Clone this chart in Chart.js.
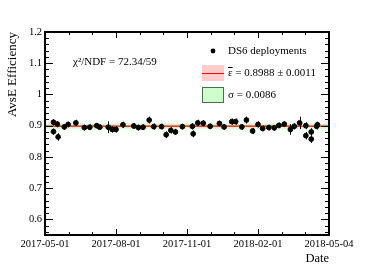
<!DOCTYPE html>
<html>
<head>
<meta charset="utf-8">
<script src="https://cdn.jsdelivr.net/npm/chart.js@4"></script>
<style>
  html, body { margin: 0; padding: 0; background: #fff; }
  canvas { display: block; }
</style>
</head>
<body>
<canvas id="effChart" width="374" height="268"></canvas>
<script>
// deployment dates and measured AvsE efficiency
const dates = [
  '2017-05-12', '2017-05-12', '2017-05-17', '2017-05-18', '2017-05-26', '2017-05-31',
  '2017-06-10', '2017-06-21', '2017-06-28', '2017-07-07', '2017-07-11', '2017-07-22',
  '2017-07-27', '2017-08-01', '2017-08-10', '2017-08-24', '2017-08-30', '2017-09-05',
  '2017-09-13', '2017-09-19', '2017-09-29', '2017-10-05', '2017-10-11', '2017-10-17',
  '2017-10-26', '2017-11-08', '2017-11-09', '2017-11-15', '2017-11-22', '2017-12-01',
  '2017-12-13', '2017-12-19', '2017-12-29', '2018-01-03', '2018-01-11', '2018-01-17',
  '2018-01-25', '2018-02-01', '2018-02-07', '2018-02-15', '2018-02-22', '2018-02-28',
  '2018-03-07', '2018-03-15', '2018-03-20', '2018-03-27', '2018-04-04', '2018-04-04',
  '2018-04-11', '2018-04-11', '2018-04-18', '2018-04-19'
];
const efficiency = [
  0.911, 0.881, 0.905, 0.864, 0.896, 0.904,
  0.909, 0.894, 0.895, 0.900, 0.895, 0.895,
  0.888, 0.888, 0.903, 0.899, 0.894, 0.895,
  0.918, 0.897, 0.897, 0.871, 0.885, 0.880,
  0.897, 0.898, 0.874, 0.909, 0.908, 0.898,
  0.907, 0.896, 0.913, 0.913, 0.896, 0.918,
  0.883, 0.904, 0.891, 0.894, 0.893, 0.901,
  0.905, 0.888, 0.898, 0.909, 0.900, 0.868,
  0.880, 0.857, 0.898, 0.903
];
const errors = [
  0.010, 0.010, 0.010, 0.012, 0.009, 0.009,
  0.010, 0.009, 0.009, 0.009, 0.009, 0.019,
  0.010, 0.010, 0.010, 0.009, 0.009, 0.009,
  0.011, 0.010, 0.009, 0.011, 0.010, 0.010,
  0.009, 0.010, 0.011, 0.010, 0.010, 0.009,
  0.009, 0.009, 0.010, 0.010, 0.009, 0.011,
  0.010, 0.010, 0.009, 0.009, 0.009, 0.009,
  0.009, 0.017, 0.010, 0.020, 0.011, 0.012,
  0.012, 0.012, 0.010, 0.010
];
const tickDates = ['2017-05-01', '2017-08-01', '2017-11-01', '2018-02-01', '2018-05-04'];
const yTicks = [0.6, 0.7, 0.8, 0.9, 1.0, 1.1, 1.2];

const meanEff = 0.8988;
const meanErr = 0.0011;
const sigma = 0.0086;

const DAY = 86400000;
const t0 = Date.parse(tickDates[0]);
const toDay = d => (Date.parse(d) - t0) / DAY;
const xMajor = tickDates.map(toDay);
const xMin = xMajor[0], xMax = xMajor[xMajor.length - 1];

const points = dates.map((d, i) => ({ x: toDay(d), y: efficiency[i] }));
const flat = v => [{ x: xMin, y: v }, { x: xMax, y: v }];

const serif = 'Liberation Serif, Times New Roman, serif';

const errorBars = {
  id: 'errorBars',
  afterDatasetsDraw(chart) {
    const { ctx, scales: { x, y } } = chart;
    ctx.save();
    ctx.strokeStyle = '#000';
    ctx.lineWidth = 1;
    points.forEach((p, i) => {
      const px = Math.round(x.getPixelForValue(p.x)) + 0.5;
      ctx.beginPath();
      ctx.moveTo(px, y.getPixelForValue(p.y - errors[i]));
      ctx.lineTo(px, y.getPixelForValue(p.y + errors[i]));
      ctx.stroke();
    });
    ctx.restore();
  }
};

// ROOT style frame, inward ticks, legend and fit text
const frame = {
  id: 'frame',
  afterDraw(chart) {
    const { ctx, chartArea: a, scales: { x, y } } = chart;
    ctx.save();
    ctx.strokeStyle = '#000';
    ctx.lineWidth = 1;

    // x ticks: majors every 3 months, 2 minors between
    for (let i = 0; i < xMajor.length; i++) {
      const px = Math.round(x.getPixelForValue(xMajor[i])) + 0.5;
      ctx.beginPath();
      ctx.moveTo(px, a.bottom); ctx.lineTo(px, a.bottom - 6);
      ctx.moveTo(px, a.top); ctx.lineTo(px, a.top + 6);
      ctx.stroke();
      if (i < xMajor.length - 1) {
        const step = (xMajor[i + 1] - xMajor[i]) / 3;
        for (let k = 1; k < 3; k++) {
          const mx = Math.round(x.getPixelForValue(xMajor[i] + k * step)) + 0.5;
          ctx.beginPath();
          ctx.moveTo(mx, a.bottom); ctx.lineTo(mx, a.bottom - 3);
          ctx.moveTo(mx, a.top); ctx.lineTo(mx, a.top + 3);
          ctx.stroke();
        }
      }
    }
    // y ticks: majors 0.1, minors 0.02
    for (let k = 0; k <= 32; k++) {
      const v = 0.56 + k * 0.02;
      const major = Math.abs(v * 10 - Math.round(v * 10)) < 1e-6;
      const len = major ? 8 : 4;
      const py = Math.round(y.getPixelForValue(v)) + 0.5;
      ctx.beginPath();
      ctx.moveTo(a.left, py); ctx.lineTo(a.left + len, py);
      ctx.moveTo(a.right, py); ctx.lineTo(a.right - len, py);
      ctx.stroke();
    }
    ctx.lineWidth = 2;
    ctx.strokeRect(a.left, a.top, a.right - a.left, a.bottom - a.top);

    // chi2 text
    ctx.fillStyle = '#000';
    ctx.textBaseline = 'middle';
    ctx.font = '11px ' + serif;
    ctx.fillText('\u03c7\u00b2/NDF = 72.34/59', 73, 62);

    // legend
    ctx.beginPath();
    ctx.arc(213, 51, 2.4, 0, Math.PI * 2);
    ctx.fill();
    ctx.fillText('DS6 deployments', 228, 51);

    ctx.fillStyle = '#ffcccc';
    ctx.fillRect(202, 65, 22, 16);
    ctx.strokeStyle = '#ff0000';
    ctx.lineWidth = 1;
    ctx.beginPath();
    ctx.moveTo(202, 73.5); ctx.lineTo(224, 73.5);
    ctx.stroke();
    ctx.fillStyle = '#000';
    ctx.fillText('\u03b5', 228, 73);
    const ew = ctx.measureText('\u03b5').width;
    ctx.strokeStyle = '#000';
    ctx.beginPath();
    ctx.moveTo(228, 67.5); ctx.lineTo(228 + ew, 67.5);
    ctx.stroke();
    ctx.fillText(' = 0.8988 \u00b1 0.0011', 228 + ew, 73);

    ctx.fillStyle = '#ccffcc';
    ctx.fillRect(202, 87, 22, 16);
    ctx.strokeStyle = '#4d6b4d';
    ctx.strokeRect(202.5, 87.5, 21, 15);
    ctx.fillStyle = '#000';
    ctx.fillText('\u03c3 = 0.0086', 228, 95);
    ctx.restore();
  }
};

new Chart(document.getElementById('effChart'), {
  type: 'scatter',
  data: {
    datasets: [
      {
        label: 'DS6 deployments',
        data: points,
        backgroundColor: '#000',
        borderColor: '#000',
        pointRadius: 2.4,
        pointHoverRadius: 2.4
      },
      {
        label: 'mean',
        data: flat(meanEff),
        showLine: true,
        borderColor: '#ff0000',
        borderWidth: 1.3,
        pointRadius: 0
      },
      {
        label: 'mean error',
        data: flat(meanEff + meanErr),
        showLine: true,
        borderWidth: 0,
        pointRadius: 0,
        backgroundColor: '#ffcccc',
        fill: { value: meanEff - meanErr }
      },
      {
        label: 'sigma',
        data: flat(meanEff + sigma),
        showLine: true,
        borderWidth: 0,
        pointRadius: 0,
        backgroundColor: '#ccffcc',
        fill: { value: meanEff - sigma }
      }
    ]
  },
  options: {
    responsive: false,
    animation: false,
    events: [],
    layout: { padding: { left: 0, right: 45, top: 32, bottom: 0 } },
    plugins: { legend: { display: false }, tooltip: { enabled: false } },
    scales: {
      x: {
        type: 'linear',
        min: xMin,
        max: xMax,
        afterBuildTicks: s => { s.ticks = xMajor.map(v => ({ value: v })); },
        afterFit: s => { s.height = 33; },
        grid: { display: false, drawTicks: false },
        border: { display: false },
        ticks: {
          autoSkip: false,
          maxRotation: 0,
          padding: 3,
          color: '#000',
          font: { family: serif, size: 10.5 },
          callback: v => tickDates[xMajor.indexOf(v)]
        },
        title: {
          display: true,
          text: 'Date',
          align: 'end',
          color: '#000',
          font: { family: serif, size: 12.5 },
          padding: { top: 0, bottom: 2 }
        }
      },
      y: {
        min: 0.55,
        max: 1.2,
        afterBuildTicks: s => { s.ticks = yTicks.map(v => ({ value: v })); },
        afterFit: s => { s.width = 45; },
        grid: { display: false, drawTicks: false },
        border: { display: false },
        ticks: {
          padding: 3,
          color: '#000',
          font: { family: serif, size: 10.5 },
          callback: v => String(Math.round(v * 10) / 10)
        },
        title: {
          display: true,
          text: 'AvsE Efficiency',
          align: 'end',
          color: '#000',
          font: { family: serif, size: 13 },
          padding: { top: 5, bottom: 0 }
        }
      }
    }
  },
  plugins: [errorBars, frame]
});
</script>
</body>
</html>
